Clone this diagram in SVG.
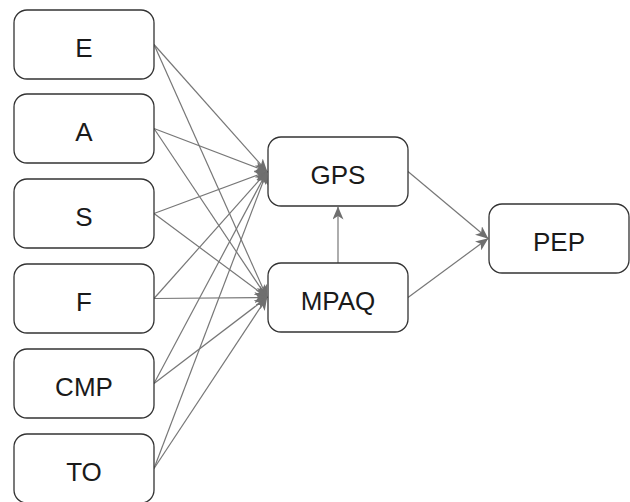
<svg xmlns="http://www.w3.org/2000/svg" width="630" height="502" viewBox="0 0 630 502">
<style>
.box{fill:#fff;stroke:#333;stroke-width:1.3}
.lbl{font-family:"Liberation Sans",Arial,sans-serif;font-size:26px;fill:#1a1a1a;text-anchor:middle}
.e{fill:none;stroke:#777;stroke-width:1.2;marker-end:url(#ah)}
</style>
<defs>
<marker id="ah" viewBox="0 0 13 11" refX="12.5" refY="5.5" markerWidth="13" markerHeight="11" markerUnits="userSpaceOnUse" orient="auto">
<path d="M0,0 L13,5.5 L0,11 L3.5,5.5 z" fill="#6f6f6f"/>
</marker>
</defs>
<rect width="630" height="502" fill="#fff"/>
<g id="edges">
<line class="e" x1="154" y1="44.5" x2="267" y2="171.5"/>
<line class="e" x1="154" y1="44.5" x2="267" y2="297.5"/>
<line class="e" x1="154" y1="128.5" x2="267" y2="171.5"/>
<line class="e" x1="154" y1="128.5" x2="267" y2="297.5"/>
<line class="e" x1="154" y1="213.5" x2="267" y2="171.5"/>
<line class="e" x1="154" y1="213.5" x2="267" y2="297.5"/>
<line class="e" x1="154" y1="298.5" x2="267" y2="171.5"/>
<line class="e" x1="154" y1="298.5" x2="267" y2="297.5"/>
<line class="e" x1="154" y1="383.5" x2="267" y2="171.5"/>
<line class="e" x1="154" y1="383.5" x2="267" y2="297.5"/>
<line class="e" x1="154" y1="468.5" x2="267" y2="171.5"/>
<line class="e" x1="154" y1="468.5" x2="267" y2="297.5"/>
<line class="e" x1="338" y1="263" x2="338" y2="207"/>
<line class="e" x1="408" y1="171.5" x2="488" y2="238.5"/>
<line class="e" x1="408" y1="297.5" x2="488" y2="238.5"/>
</g>
<g id="E"><rect class="box" x="14" y="10" width="140" height="69" rx="13"/><text class="lbl" x="84" y="57">E</text></g>
<g id="A"><rect class="box" x="14" y="94" width="140" height="69" rx="13"/><text class="lbl" x="84" y="141">A</text></g>
<g id="S"><rect class="box" x="14" y="179" width="140" height="69" rx="13"/><text class="lbl" x="84" y="226">S</text></g>
<g id="F"><rect class="box" x="14" y="264" width="140" height="69" rx="13"/><text class="lbl" x="84" y="311">F</text></g>
<g id="CMP"><rect class="box" x="14" y="349" width="140" height="69" rx="13"/><text class="lbl" x="84" y="396">CMP</text></g>
<g id="TO"><rect class="box" x="14" y="434" width="140" height="69" rx="13"/><text class="lbl" x="84" y="481">TO</text></g>
<g id="GPS"><rect class="box" x="268" y="137" width="140" height="69" rx="13"/><text class="lbl" x="338" y="184">GPS</text></g>
<g id="MPAQ"><rect class="box" x="268" y="263" width="140" height="69" rx="13"/><text class="lbl" x="338" y="310">MPAQ</text></g>
<g id="PEP"><rect class="box" x="489" y="204" width="140" height="69" rx="13"/><text class="lbl" x="559" y="251">PEP</text></g>
</svg>
